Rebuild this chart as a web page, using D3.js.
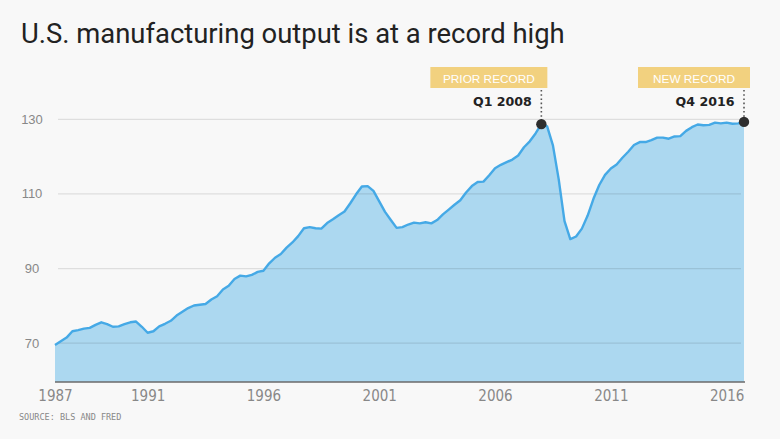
<!DOCTYPE html>
<html>
<head>
<meta charset="utf-8">
<script src="https://cdn.jsdelivr.net/npm/d3@7"></script>
<style>
  html, body { margin: 0; padding: 0; background: #f8f8f8; }
  svg { display: block; }
</style>
</head>
<body>
<svg id="chart" width="780" height="439"></svg>
<script>
// ---- data ----
const startYear = 1987; // first quarter: Q1 1987, quarterly observations
const output = [
  69.5, 70.5, 71.5, 73.2, 73.5, 73.9, 74.1, 74.9, 75.6, 75.1,
  74.4, 74.5, 75.1, 75.6, 75.8, 74.4, 72.8, 73.2, 74.5, 75.2,
  76.0, 77.4, 78.4, 79.4, 80.1, 80.3, 80.5, 81.7, 82.6, 84.4,
  85.4, 87.2, 88.1, 87.9, 88.3, 89.1, 89.4, 91.4, 92.9, 93.9,
  95.6, 97.0, 98.7, 100.8, 101.1, 100.8, 100.7, 102.2, 103.2, 104.3,
  105.3, 107.5, 109.9, 112.0, 112.1, 110.8, 108.0, 105.2, 103.0, 100.9,
  101.1, 101.8, 102.3, 102.1, 102.4, 102.1, 103.0, 104.5, 105.8, 107.1,
  108.3, 110.4, 112.1, 113.2, 113.3, 115.0, 116.9, 117.8, 118.5, 119.2,
  120.3, 122.5, 124.1, 126.2, 128.7, 128.1, 123.0, 113.9, 102.7, 97.9,
  98.6, 100.7, 104.2, 108.7, 112.4, 115.1, 116.8, 117.9, 119.7, 121.3,
  123.1, 123.9, 123.9, 124.4, 125.1, 125.1, 124.8, 125.4, 125.5, 126.9,
  127.9, 128.6, 128.4, 128.5, 129.1, 128.9, 129.1, 128.8, 128.9, 129.3
];
const xTicks = [1987, 1991, 1996, 2001, 2006, 2011, 2016];
const yTicks = [70, 90, 110, 130];
const annotations = [
  { label: "PRIOR RECORD", when: "Q1 2008", index: 84 },
  { label: "NEW RECORD",   when: "Q4 2016", index: 119 }
];
const titleText = "U.S. manufacturing output is at a record high";
const sourceText = "SOURCE: BLS AND FRED";

// ---- build ----
const data = output.map((v, i) => ({ t: startYear + i / 4, v }));
const svg = d3.select("#chart");

const x = d3.scaleLinear().domain([startYear, startYear + (output.length - 1) / 4]).range([55, 744]);
const y = d3.scaleLinear().domain([59.6, 130]).range([382, 119.3]);

// title
const title = svg.append("text")
  .attr("x", 21).attr("y", 43)
  .attr("font-family", "Roboto, 'Noto Sans', sans-serif")
  .attr("font-size", 25)
  .attr("fill", "#222")
  .text(titleText);
const tw = title.node().getComputedTextLength();
title.attr("font-size", 25 * 544 / tw);

// area
const area = d3.area().x(d => x(d.t)).y0(y(59.6)).y1(d => y(d.v));
svg.append("path").datum(data).attr("d", area).attr("fill", "#acd8f0");

// gridlines (on top, translucent)
svg.append("g").selectAll("line").data(yTicks).join("line")
  .attr("x1", 58).attr("x2", 741)
  .attr("y1", d => y(d)).attr("y2", d => y(d))
  .attr("stroke", "rgba(0,0,0,0.1)").attr("stroke-width", 1.2);

// y labels
svg.append("g").selectAll("text").data(yTicks).join("text")
  .attr("x", 32).attr("y", d => y(d) + 4.5)
  .attr("text-anchor", "middle")
  .attr("font-family", "'Liberation Sans', Arial, sans-serif")
  .attr("font-size", 13)
  .attr("fill", "#888")
  .text(d => d);

// line
const line = d3.line().x(d => x(d.t)).y(d => y(d.v));
svg.append("path").datum(data).attr("d", line)
  .attr("fill", "none").attr("stroke", "#45a9e6").attr("stroke-width", 2.4)
  .attr("stroke-linejoin", "round");

// x axis
const xAxis = d3.axisBottom(x).tickValues(xTicks).tickSize(0).tickPadding(8).tickFormat(d3.format("d"));
const gx = svg.append("g").attr("transform", `translate(0,${y(59.6)})`).call(xAxis);
gx.select(".domain").attr("stroke", "#6b6b6b").attr("stroke-width", 1.6)
  .attr("d", `M${x.range()[0]},0H${x.range()[1] + 1}`);
gx.selectAll("text")
  .attr("font-family", "'Liberation Sans Narrow', 'DejaVu Sans Condensed', sans-serif")
  .attr("font-size", 15)
  .attr("fill", "#888");

// annotations
annotations.forEach(a => {
  const d = data[a.index];
  const cx = x(d.t), cy = y(d.v);
  svg.append("line")
    .attr("x1", cx).attr("x2", cx).attr("y1", 90).attr("y2", cy)
    .attr("stroke", "#555").attr("stroke-width", 1.6).attr("stroke-dasharray", "1.6,2.6");
  svg.append("circle").attr("cx", cx).attr("cy", cy).attr("r", 5.2).attr("fill", "#2e2e2e");
  svg.append("rect")
    .attr("x", cx + 6 - 117 + (a.label === "NEW RECORD" ? 5 : 0)).attr("y", 67)
    .attr("width", a.label === "NEW RECORD" ? 112 : 117).attr("height", 21)
    .attr("fill", "#f2d17f");
  svg.append("text")
    .attr("x", cx + 6 - (a.label === "NEW RECORD" ? 56 : 58.5)).attr("y", 82.5)
    .attr("text-anchor", "middle")
    .attr("font-family", "'Liberation Sans', Arial, sans-serif")
    .attr("font-size", 11.8).attr("fill", "#fff")
    .text(a.label);
  svg.append("text")
    .attr("x", cx - 9.5).attr("y", 106)
    .attr("text-anchor", "end")
    .attr("font-family", "'DejaVu Sans', sans-serif")
    .attr("font-weight", "bold")
    .attr("font-size", 12.6).attr("fill", "#222")
    .text(a.when);
});

// source
svg.append("text")
  .attr("x", 19).attr("y", 420)
  .attr("font-family", "'DejaVu Sans Mono', monospace")
  .attr("font-size", 8.5)
  .attr("fill", "#888")
  .text(sourceText);
</script>
</body>
</html>
